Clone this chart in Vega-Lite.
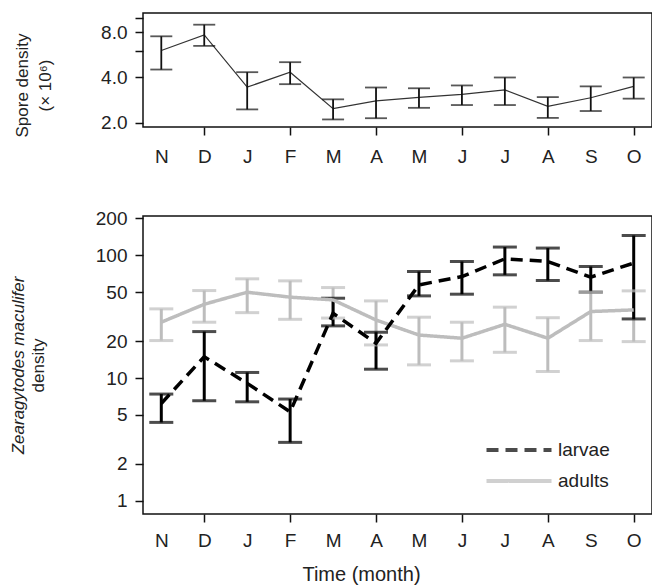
{
  "$schema": "https://vega.github.io/schema/vega-lite/v6.json",
  "background": "white",
  "padding": {"left": 8, "top": 12, "right": 1, "bottom": 0},
  "spacing": 41,
  "config": {
    "font": "Liberation Sans",
    "view": {"stroke": "#111", "strokeWidth": 1.5},
    "axis": {
      "labelFont": "Liberation Sans", "labelFontSize": 19, "labelColor": "#222",
      "titleFont": "Liberation Sans", "titleFontSize": 17, "titleFontWeight": "normal", "titleColor": "#222",
      "tickColor": "#111", "tickWidth": 1.5, "tickSize": 8, "domain": false, "grid": false
    },
    "legend": {
      "labelFont": "Liberation Sans", "labelFontSize": 19, "labelColor": "#222"
    }
  },
  "datasets": {
    "spores": [
      {"idx": 0, "month": "N", "mean": 6.05, "lo": 4.52, "hi": 7.53},
      {"idx": 1, "month": "D", "mean": 7.69, "lo": 6.5, "hi": 9.0},
      {"idx": 2, "month": "J", "mean": 3.45, "lo": 2.45, "hi": 4.34},
      {"idx": 3, "month": "F", "mean": 4.34, "lo": 3.61, "hi": 5.06},
      {"idx": 4, "month": "M", "mean": 2.48, "lo": 2.1, "hi": 2.86},
      {"idx": 5, "month": "A", "mean": 2.79, "lo": 2.14, "hi": 3.43},
      {"idx": 6, "month": "M", "mean": 2.95, "lo": 2.51, "hi": 3.39},
      {"idx": 7, "month": "J", "mean": 3.09, "lo": 2.62, "hi": 3.54},
      {"idx": 8, "month": "J", "mean": 3.31, "lo": 2.62, "hi": 4.0},
      {"idx": 9, "month": "A", "mean": 2.57, "lo": 2.15, "hi": 2.96},
      {"idx": 10, "month": "S", "mean": 2.93, "lo": 2.39, "hi": 3.49},
      {"idx": 11, "month": "O", "mean": 3.49, "lo": 2.89, "hi": 4.0}
    ],
    "moth": [
      {"idx": 0, "month": "N", "series": "adults", "mean": 28.5, "lo": 20.2, "hi": 36.6},
      {"idx": 1, "month": "D", "series": "adults", "mean": 39.9, "lo": 28.5, "hi": 51.6},
      {"idx": 2, "month": "J", "series": "adults", "mean": 50, "lo": 34.1, "hi": 64.3},
      {"idx": 3, "month": "F", "series": "adults", "mean": 45.6, "lo": 30.1, "hi": 61.9},
      {"idx": 4, "month": "M", "series": "adults", "mean": 43.3, "lo": 30.8, "hi": 54.6},
      {"idx": 5, "month": "A", "series": "adults", "mean": 29.7, "lo": 18.6, "hi": 42.5},
      {"idx": 6, "month": "M", "series": "adults", "mean": 22.4, "lo": 12.8, "hi": 31.3},
      {"idx": 7, "month": "J", "series": "adults", "mean": 21.1, "lo": 13.8, "hi": 28.5},
      {"idx": 8, "month": "J", "series": "adults", "mean": 27.4, "lo": 16.2, "hi": 37.8},
      {"idx": 9, "month": "A", "series": "adults", "mean": 21.1, "lo": 11.3, "hi": 31},
      {"idx": 10, "month": "S", "series": "adults", "mean": 34.8, "lo": 20.2, "hi": 50},
      {"idx": 11, "month": "O", "series": "adults", "mean": 35.9, "lo": 19.8, "hi": 51.3},
      {"idx": 0, "month": "N", "series": "larvae", "mean": 6.2, "lo": 4.35, "hi": 7.4},
      {"idx": 1, "month": "D", "series": "larvae", "mean": 14.9, "lo": 6.53, "hi": 23.9},
      {"idx": 2, "month": "J", "series": "larvae", "mean": 9.05, "lo": 6.4, "hi": 11.1},
      {"idx": 3, "month": "F", "series": "larvae", "mean": 5.3, "lo": 2.99, "hi": 6.74},
      {"idx": 4, "month": "M", "series": "larvae", "mean": 33.7, "lo": 26.6, "hi": 44.7},
      {"idx": 5, "month": "A", "series": "larvae", "mean": 19.2, "lo": 11.8, "hi": 23.6},
      {"idx": 6, "month": "M", "series": "larvae", "mean": 57.4, "lo": 46.7, "hi": 73.8},
      {"idx": 7, "month": "J", "series": "larvae", "mean": 67.1, "lo": 48.2, "hi": 89},
      {"idx": 8, "month": "J", "series": "larvae", "mean": 93.6, "lo": 69.3, "hi": 116.7},
      {"idx": 9, "month": "A", "series": "larvae", "mean": 89, "lo": 62.3, "hi": 114.5},
      {"idx": 10, "month": "S", "series": "larvae", "mean": 66.4, "lo": 50.1, "hi": 81},
      {"idx": 11, "month": "O", "series": "larvae", "mean": 86.4, "lo": 30.3, "hi": 145}
    ]
  },
  "vconcat": [
    {
      "width": 509,
      "height": 114,
      "data": {"name": "spores"},
      "layer": [
        {
          "mark": {"type": "line", "color": "#333", "strokeWidth": 1.2},
          "encoding": {
            "x": {
              "field": "idx", "type": "quantitative",
              "scale": {"domain": [-0.426, 11.426], "nice": false, "zero": false},
              "axis": {
                "title": null,
                "values": [0, 1, 2, 3, 4, 5, 6, 7, 8, 9, 10, 11],
                "labelExpr": "['N','D','J','F','M','A','M','J','J','A','S','O'][datum.value]",
                "tickOpacity": {"condition": {"test": "datum.value % 2 == 1", "value": 1}, "value": 0},
                "labelPadding": 12
              }
            },
            "y": {
              "field": "mean", "type": "quantitative",
              "scale": {"type": "log", "domain": [1.87, 10.77], "nice": false},
              "axis": {
                "title": ["Spore density", "(× 10⁶)"],
                "titleLineHeight": 23,
                "titlePadding": 46,
                "titleY": 72,
                "values": [2, 4, 6, 8, 10],
                "labelExpr": "datum.value == 6 || datum.value == 10 ? '' : format(datum.value, '.1f')",
                "labelPadding": 8
              }
            }
          }
        },
        {
          "mark": {"type": "rule", "color": "#111", "strokeWidth": 1.8},
          "encoding": {
            "x": {"field": "idx", "type": "quantitative"},
            "y": {"field": "lo", "type": "quantitative"},
            "y2": {"field": "hi"}
          }
        },
        {
          "mark": {"type": "tick", "orient": "horizontal", "size": 22, "thickness": 1.8, "color": "#111"},
          "encoding": {
            "x": {"field": "idx", "type": "quantitative"},
            "y": {"field": "lo", "type": "quantitative"}
          }
        },
        {
          "mark": {"type": "tick", "orient": "horizontal", "size": 22, "thickness": 1.8, "color": "#111"},
          "encoding": {
            "x": {"field": "idx", "type": "quantitative"},
            "y": {"field": "hi", "type": "quantitative"}
          }
        }
      ]
    },
    {
      "width": 509,
      "height": 298,
      "data": {"name": "moth"},
      "resolve": {"axis": {"y": "independent"}},
      "layer": [
        {
          "mark": {"type": "rule", "strokeWidth": 3},
          "encoding": {
            "x": {
              "field": "idx", "type": "quantitative",
              "scale": {"domain": [-0.426, 11.426], "nice": false, "zero": false},
              "axis": {
                "title": "Time (month)",
                "titleFontSize": 20,
                "titlePadding": 14,
                "titleX": 218,
                "values": [0, 1, 2, 3, 4, 5, 6, 7, 8, 9, 10, 11],
                "labelExpr": "['N','D','J','F','M','A','M','J','J','A','S','O'][datum.value]",
                "tickOpacity": {"condition": {"test": "datum.value % 2 == 1", "value": 1}, "value": 0},
                "labelPadding": 9
              }
            },
            "y": {
              "field": "lo", "type": "quantitative",
              "scale": {"type": "log", "domain": [0.78, 209], "nice": false},
              "axis": {
                "title": "density",
                "titlePadding": 48,
                "values": [1, 2, 5, 10, 20, 50, 100, 200],
                "labelPadding": 8
              }
            },
            "y2": {"field": "hi"},
            "color": {
              "field": "series", "type": "nominal",
              "scale": {"domain": ["larvae", "adults"], "range": ["#000000", "#bdbdbd"]},
              "legend": {
                "title": null,
                "orient": "none",
                "legendX": 364,
                "legendY": 425,
                "symbolType": "M-3.25,0H3.25",
                "symbolSize": 400,
                "symbolStrokeWidth": 4,
                "labelOffset": 27,
                "rowPadding": 9
              }
            }
          }
        },
        {
          "mark": {"type": "tick", "orient": "horizontal", "size": 24, "thickness": 3},
          "encoding": {
            "x": {"field": "idx", "type": "quantitative"},
            "y": {"field": "lo", "type": "quantitative", "axis": null},
            "color": {"field": "series", "type": "nominal"}
          }
        },
        {
          "mark": {"type": "tick", "orient": "horizontal", "size": 24, "thickness": 3},
          "encoding": {
            "x": {"field": "idx", "type": "quantitative"},
            "y": {"field": "hi", "type": "quantitative", "axis": null},
            "color": {"field": "series", "type": "nominal"}
          }
        },
        {
          "mark": {"type": "line", "strokeWidth": 3.5},
          "encoding": {
            "x": {"field": "idx", "type": "quantitative"},
            "y": {"field": "mean", "type": "quantitative", "axis": null},
            "color": {"field": "series", "type": "nominal"},
            "strokeDash": {
              "field": "series", "type": "nominal",
              "scale": {"domain": ["larvae", "adults"], "range": [[12, 7], [1, 0]]}
            }
          }
        },
        {
          "mark": {"type": "point", "opacity": 0},
          "encoding": {
            "x": {"field": "idx", "type": "quantitative"},
            "y": {
              "field": "mean", "type": "quantitative",
              "axis": {
                "orient": "left",
                "title": "Zearagytodes maculifer",
                "titleFontStyle": "italic",
                "titlePadding": 116,
                "labels": false,
                "ticks": false,
                "domain": false
              }
            }
          }
        }
      ]
    }
  ]
}
